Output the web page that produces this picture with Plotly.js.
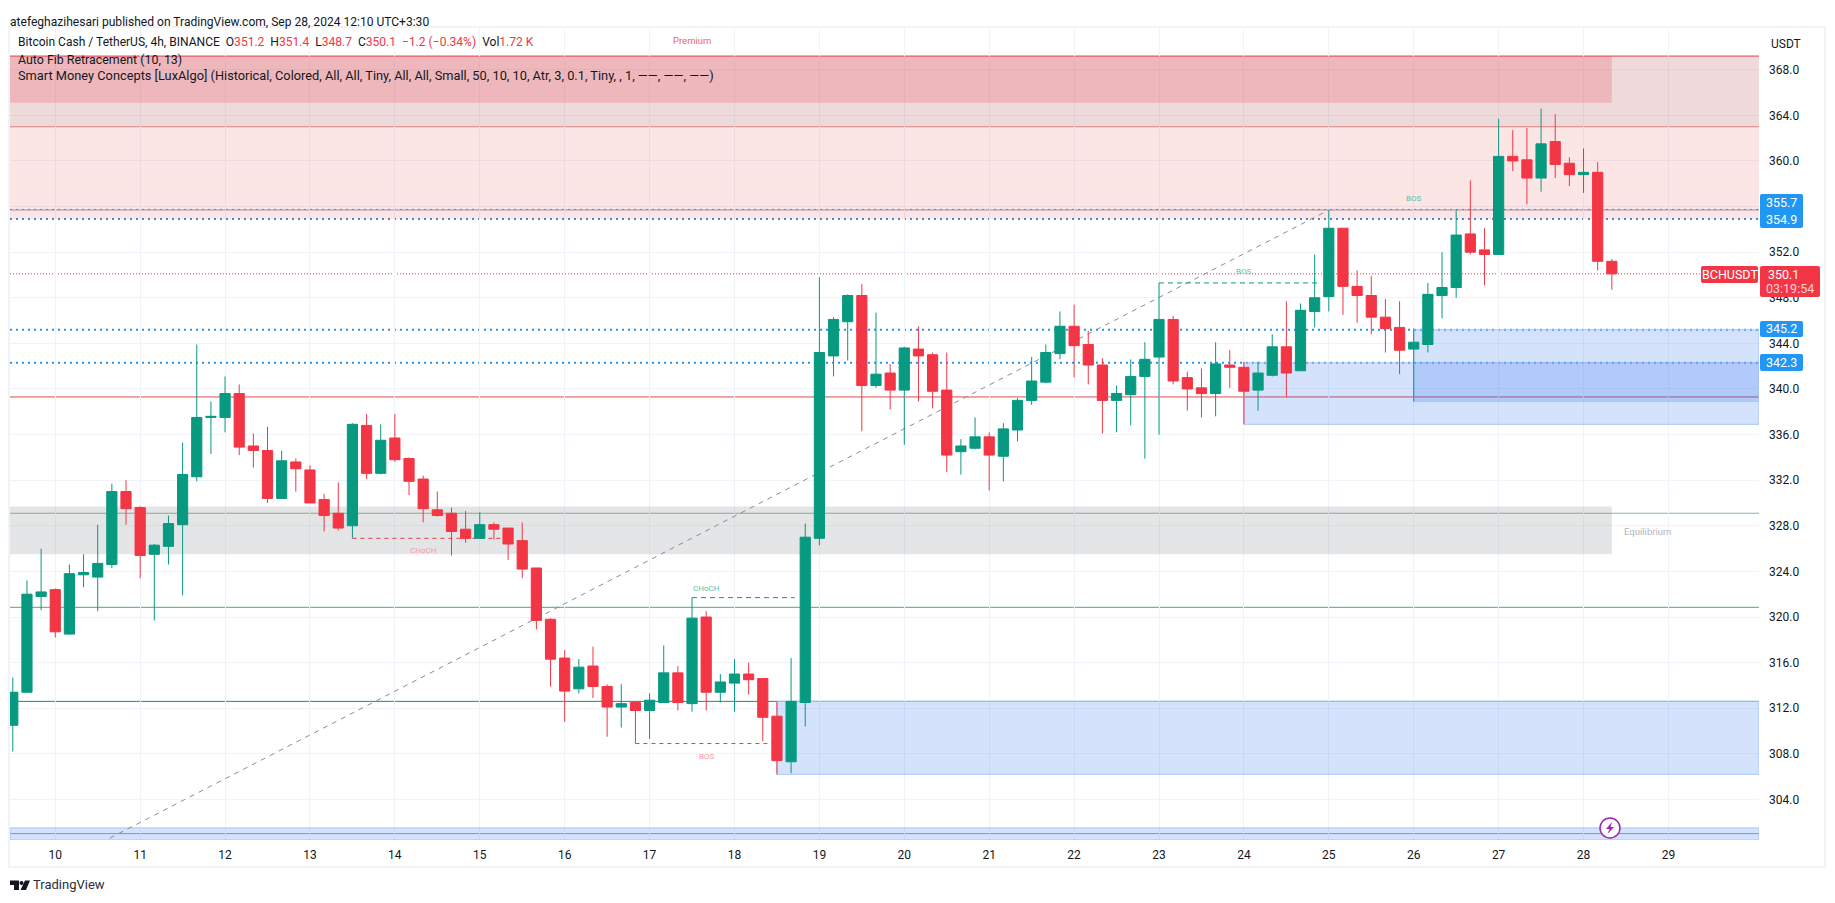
<!DOCTYPE html>
<html>
<head>
<meta charset="utf-8">
<script src="https://cdn.plot.ly/plotly-3.0.1.min.js"></script>
<style>html,body{margin:0;padding:0;background:#fff;overflow:hidden}#chart{width:1835px;height:903px}</style>
</head>
<body>
<div id="chart"></div>
<script>
var times = [
"2024-09-09 12:00","2024-09-09 16:00","2024-09-09 20:00",
"2024-09-10 00:00","2024-09-10 04:00","2024-09-10 08:00","2024-09-10 12:00","2024-09-10 16:00","2024-09-10 20:00",
"2024-09-11 00:00","2024-09-11 04:00","2024-09-11 08:00","2024-09-11 12:00","2024-09-11 16:00","2024-09-11 20:00",
"2024-09-12 00:00","2024-09-12 04:00","2024-09-12 08:00","2024-09-12 12:00","2024-09-12 16:00","2024-09-12 20:00",
"2024-09-13 00:00","2024-09-13 04:00","2024-09-13 08:00","2024-09-13 12:00","2024-09-13 16:00","2024-09-13 20:00",
"2024-09-14 00:00","2024-09-14 04:00","2024-09-14 08:00","2024-09-14 12:00","2024-09-14 16:00","2024-09-14 20:00",
"2024-09-15 00:00","2024-09-15 04:00","2024-09-15 08:00","2024-09-15 12:00","2024-09-15 16:00","2024-09-15 20:00",
"2024-09-16 00:00","2024-09-16 04:00","2024-09-16 08:00","2024-09-16 12:00","2024-09-16 16:00","2024-09-16 20:00",
"2024-09-17 00:00","2024-09-17 04:00","2024-09-17 08:00","2024-09-17 12:00","2024-09-17 16:00","2024-09-17 20:00",
"2024-09-18 00:00","2024-09-18 04:00","2024-09-18 08:00","2024-09-18 12:00","2024-09-18 16:00","2024-09-18 20:00",
"2024-09-19 00:00","2024-09-19 04:00","2024-09-19 08:00","2024-09-19 12:00","2024-09-19 16:00","2024-09-19 20:00",
"2024-09-20 00:00","2024-09-20 04:00","2024-09-20 08:00","2024-09-20 12:00","2024-09-20 16:00","2024-09-20 20:00",
"2024-09-21 00:00","2024-09-21 04:00","2024-09-21 08:00","2024-09-21 12:00","2024-09-21 16:00","2024-09-21 20:00",
"2024-09-22 00:00","2024-09-22 04:00","2024-09-22 08:00","2024-09-22 12:00","2024-09-22 16:00","2024-09-22 20:00",
"2024-09-23 00:00","2024-09-23 04:00","2024-09-23 08:00","2024-09-23 12:00","2024-09-23 16:00","2024-09-23 20:00",
"2024-09-24 00:00","2024-09-24 04:00","2024-09-24 08:00","2024-09-24 12:00","2024-09-24 16:00","2024-09-24 20:00",
"2024-09-25 00:00","2024-09-25 04:00","2024-09-25 08:00","2024-09-25 12:00","2024-09-25 16:00","2024-09-25 20:00",
"2024-09-26 00:00","2024-09-26 04:00","2024-09-26 08:00","2024-09-26 12:00","2024-09-26 16:00","2024-09-26 20:00",
"2024-09-27 00:00","2024-09-27 04:00","2024-09-27 08:00","2024-09-27 12:00","2024-09-27 16:00","2024-09-27 20:00",
"2024-09-28 00:00","2024-09-28 04:00","2024-09-28 08:00"];

var opens = [
310.5,313.4,321.8,322.4,318.5,323.7,323.5,324.6,331.0,329.6,
325.5,326.2,328.1,332.3,337.5,337.5,339.6,335.0,334.6,330.4,
333.6,332.9,330.3,329.1,328.0,336.8,332.6,335.7,333.9,332.1,
329.4,329.1,327.7,326.9,328.1,327.8,326.7,324.3,319.8,316.4,
313.7,315.7,313.9,312.1,312.5,311.8,312.5,315.1,312.4,320.0,
313.4,314.2,315.0,314.6,311.3,307.3,312.5,326.9,342.9,345.9,
348.2,340.3,341.4,339.9,343.5,343.0,339.9,334.5,334.8,335.8,
334.1,336.4,339.0,340.6,343.1,345.5,343.9,342.1,339.0,339.5,
341.1,342.8,346.1,341.0,340.1,339.6,342.1,341.9,339.9,341.2,
343.7,341.6,346.8,348.1,354.1,349.0,348.2,346.3,345.4,343.5,
343.9,348.2,348.9,353.6,352.2,351.8,360.4,360.1,358.5,361.7,
359.8,358.8,359.0,351.2];
var highs = [
314.7,323.2,326.0,322.5,324.6,325.5,328.1,331.7,332.0,329.7,
326.4,328.9,335.3,343.9,338.9,341.1,340.4,336.1,336.7,334.6,
333.9,333.3,330.8,331.8,337.0,337.8,336.9,337.8,334.0,332.4,
331.0,329.6,329.3,329.2,328.3,327.8,328.3,324.3,319.9,317.1,
316.3,317.4,314.1,314.1,312.6,313.3,317.5,315.7,321.7,320.5,
315.0,316.3,316.0,314.6,312.6,316.4,328.2,349.8,346.3,348.3,
349.2,346.7,342.2,343.7,345.5,343.2,343.2,335.6,337.5,336.2,
337.0,339.2,342.8,343.9,346.8,347.4,345.1,342.7,340.3,342.6,
344.1,349.3,346.4,341.5,341.8,344.1,343.4,342.4,342.4,344.8,
347.7,347.5,351.8,355.7,354.1,350.4,349.9,347.9,347.7,345.3,
349.3,352.0,355.7,358.3,354.1,363.7,362.7,362.9,364.6,364.1,
360.3,361.1,359.9,351.4];
var lows = [
308.2,313.4,320.6,318.2,318.5,322.6,320.5,324.3,328.1,323.4,
319.7,324.6,321.9,331.9,334.3,336.2,334.2,333.1,330.0,330.4,
331.0,330.0,327.5,327.6,326.9,332.1,332.5,333.6,330.7,328.3,
328.8,325.4,326.5,326.9,326.8,325.0,323.4,318.9,313.9,310.8,
313.3,312.9,309.5,310.3,308.9,309.3,312.5,311.8,311.7,311.8,
312.5,311.7,313.2,309.1,306.2,306.3,310.4,326.3,341.1,342.5,
336.3,340.1,338.2,335.1,338.9,338.3,332.7,332.5,334.7,331.1,
331.9,335.4,338.6,340.5,342.6,341.0,340.4,336.1,336.2,336.8,
333.9,336.0,340.4,338.1,337.5,337.6,340.1,336.9,338.1,341.1,
339.3,341.6,345.4,346.8,346.5,345.8,344.8,343.2,341.3,338.9,
343.2,346.2,348.0,351.8,349.1,351.8,359.1,356.2,357.3,358.5,
357.8,357.2,350.4,348.7];
var closes = [
313.4,322.0,322.2,318.7,323.8,323.9,324.7,331.0,329.5,325.4,
326.3,328.2,332.5,337.5,337.6,339.6,334.9,334.6,330.4,333.7,
333.0,330.0,328.9,327.8,336.9,332.6,335.5,333.8,331.9,329.5,
328.9,327.5,326.9,328.1,327.7,326.4,324.2,319.7,316.3,313.5,
315.6,313.9,312.1,312.4,311.8,312.7,315.1,312.5,319.9,313.4,
314.3,315.0,314.5,311.2,307.4,312.6,327.0,343.2,346.1,348.2,
340.3,341.3,339.9,343.6,342.9,339.8,334.2,335.0,335.8,334.2,
336.5,339.0,340.7,343.2,345.5,343.8,342.1,339.0,339.6,341.1,
342.6,346.1,340.7,340.0,339.6,342.2,341.9,339.8,341.4,343.7,
341.4,346.9,348.0,354.1,349.0,348.2,346.3,345.3,343.4,344.1,
348.3,348.9,353.5,352.0,351.8,360.4,360.0,358.5,361.5,359.7,
358.8,359.0,351.2,350.1];

var yTickValues = [304,308,312,316,320,324,328,332,336,340,344,348,352,356,360,364,368];
var yTickLabels = ["304.0","308.0","312.0","316.0","320.0","324.0","328.0","332.0","336.0","340.0","344.0","348.0","352.0","","360.0","364.0","368.0"];
var dayTicks = ["2024-09-10","2024-09-11","2024-09-12","2024-09-13","2024-09-14","2024-09-15","2024-09-16","2024-09-17","2024-09-18","2024-09-19","2024-09-20","2024-09-21","2024-09-22","2024-09-23","2024-09-24","2024-09-25","2024-09-26","2024-09-27","2024-09-28","2024-09-29"];
var dayLabels = ["10","11","12","13","14","15","16","17","18","19","20","21","22","23","24","25","26","27","28","29"];

var lastPrice = 350.1, level1 = 355.7, level2 = 354.9, level3 = 345.2, level4 = 342.3;
var fibTop = 369.2, fib2 = 363.0, fib3 = 339.3, fib4 = 329.1, fib5 = 320.85, fib6 = 312.6, fib7 = 301.0;
var xRange = ["2024-09-09 11:12:30","2024-09-30 01:36"];
var yRange = [300.44,371.75];

var UP='#089981', DOWN='#f23645', TEXT='#131722', FRAME='#f0f3fa', BLUE='#2196f3';
var FONT='Roboto,"Liberation Sans",sans-serif';

// pixel helpers for page chrome only
function px(x){return (x-10)/1749;}
function py(y){return (840-y)/813;}

function hline(p,color,dash,w){return {type:'line',layer:'between',xref:'paper',x0:0,x1:1,yref:'y',y0:p,y1:p,line:{color:color,width:w||1,dash:dash||'solid'}};}
function box(x0,x1,y0,y1,fill,edge){return {type:'rect',layer:'between',xref:'x',x0:x0,x1:x1,yref:'y',y0:y0,y1:y1,fillcolor:fill,line:{width:edge?1:0,color:edge||'rgba(0,0,0,0)'}};}
function seg(x0,y0,x1,y1,color,dash){return {type:'line',layer:'between',xref:'x',yref:'y',x0:x0,y0:y0,x1:x1,y1:y1,line:{color:color,width:1,dash:dash||'solid'}};}
function rectPx(x0,y0,x1,y1,fill){return {type:'rect',xref:'paper',yref:'paper',x0:px(x0),x1:px(x1),y0:py(y0),y1:py(y1),fillcolor:fill,line:{width:0}};}
function roundPx(x0,y0,x1,y1,fill){var r=2;var X=px,Y=py;var d='M'+X(x0+r)+','+Y(y0)+' L'+X(x1-r)+','+Y(y0)+' Q'+X(x1)+','+Y(y0)+' '+X(x1)+','+Y(y0+r)+' L'+X(x1)+','+Y(y1-r)+' Q'+X(x1)+','+Y(y1)+' '+X(x1-r)+','+Y(y1)+' L'+X(x0+r)+','+Y(y1)+' Q'+X(x0)+','+Y(y1)+' '+X(x0)+','+Y(y1-r)+' L'+X(x0)+','+Y(y0+r)+' Q'+X(x0)+','+Y(y0)+' '+X(x0+r)+','+Y(y0)+' Z';return {type:'path',xref:'paper',yref:'paper',path:d,fillcolor:fill,line:{width:0}};}
function polyPx(pts,fill){var d=pts.map(function(p,i){return (i?'L':'M')+px(p[0])+','+py(p[1]);}).join(' ')+' Z';return {type:'path',xref:'paper',yref:'paper',path:d,fillcolor:fill,line:{width:0}};}

var BOXFILL='rgba(38,110,240,0.2)', BOXEDGE='#a9c6f8';
var shapes=[
  // premium / equilibrium / fib zones
  box(xRange[0],xRange[1],level2,fibTop,'rgba(235,80,80,0.15)'),
  box(xRange[0],xRange[1],fib2,fibTop,'rgba(120,123,134,0.10)'),
  box(xRange[0],times[113],365.1,fibTop,'rgba(242,54,69,0.21)'),
  box(xRange[0],times[113],325.5,329.7,'rgba(120,123,134,0.2)'),
  // order blocks
  box(times[54],xRange[1],306.2,fib6,BOXFILL,BOXEDGE),
  box(times[87],xRange[1],336.9,level4,BOXFILL,BOXEDGE),
  box(times[99],xRange[1],338.9,level3,BOXFILL,BOXEDGE),
  box(xRange[0],xRange[1],300.44,301.5,BOXFILL,BOXEDGE),
  // fib levels
  hline(fibTop,DOWN),hline(fib2,'#e08c8e'),hline(fib3,'#e04a4a'),hline(fib4,'#86bf88'),hline(fib5,'#55a85a'),hline(fib6,'#1b8a70'),hline(fib7,'#5cb0f5'),
  hline(level1,'#8a9ac8'),
  hline(level1+0.05,'#5a8fd0','2px,4px',1),hline(level2,BLUE,'2px,4px',2),hline(level3,BLUE,'2px,4px',2),hline(level4,BLUE,'2px,4px',2),
  hline(lastPrice,DOWN,'1px,2px',1),
  // structure labels
  seg(times[24],326.9,"2024-09-15 06:00",326.9,DOWN,'4px,4px'),
  seg(times[44],308.9,times[54],308.9,DOWN,'4px,4px'),
  seg(times[48],321.7,"2024-09-18 17:00",321.7,UP,'5px,4px'),
  seg(times[81],349.3,"2024-09-24 21:00",349.3,UP,'5px,4px'),
  seg("2024-09-10 15:24",300.6,times[93],level1,'#8a8d96','5px,5px'),
  // outer frame
  rectPx(8,26,1826,28,FRAME),rectPx(8,26,10,868,FRAME),rectPx(1824,26,1826,868,FRAME),rectPx(8,866,1826,868,FRAME),
  // price tags
  roundPx(1760,194,1803,228,BLUE),
  roundPx(1760,321,1803,337,BLUE),
  roundPx(1760,354,1803,371,BLUE),
  roundPx(1701,266,1758,283,DOWN),
  roundPx(1760,266,1820,297,DOWN),
  // replay bolt badge
  {type:'circle',xref:'paper',yref:'paper',x0:px(1600),x1:px(1620),y0:py(818),y1:py(838),fillcolor:'#ffffff',line:{color:'#9c27b0',width:1.5}},
  polyPx([[1612,822],[1606,829],[1609.5,829],[1607.5,834],[1614,827],[1610.5,827]],'#9c27b0'),
  // TradingView logo
  polyPx([[10,880.5],[19,880.5],[19,890],[14,890],[14,885],[10,885]],'#131722'),
  {type:'circle',xref:'paper',yref:'paper',x0:px(19.5),x1:px(23.5),y0:py(881),y1:py(885),fillcolor:'#131722',line:{width:0}},
  polyPx([[25,880.5],[30,880.5],[26,890],[20.5,890]],'#131722')
];

function textPx(x,y,t,size,color,anchor){return {xref:'paper',yref:'paper',x:px(x),y:py(y),text:t,showarrow:false,xanchor:anchor||'left',yanchor:'middle',align:anchor||'left',font:{family:FONT,size:size,color:color},borderpad:0,borderwidth:0};}
function textData(x,y,t,size,color){return {xref:'x',yref:'paper',x:x,y:py(y),text:t,showarrow:false,xanchor:'center',yanchor:'middle',font:{family:FONT,size:size,color:color}};}
function red(s){return '<span style="color:#f23645">'+s+'</span>';}
var sp='\u00a0\u00a0';

var annotations=[
  textPx(10,22,'atefeghazihesari published on TradingView.com, Sep 28, 2024 12:10 UTC+3:30',12.05,TEXT),
  textPx(18,42,'Bitcoin Cash / TetherUS, 4h, BINANCE'+sp+'O'+red('351.2')+sp+'H'+red('351.4')+sp+'L'+red('348.7')+sp+'C'+red('350.1')+sp+red('\u22121.2 (\u22120.34%)')+sp+'Vol'+red('1.72 K'),12.05,TEXT),
  textPx(18,59,'Auto Fib Retracement (10, 13)',12.4,TEXT),
  textPx(18,76,'Smart Money Concepts [LuxAlgo] (Historical, Colored, All, All, Tiny, All, All, Small, 50, 10, 10, Atr, 3, 0.1, Tiny, , 1, \u2014\u2014, \u2014\u2014, \u2014\u2014)',12.8,TEXT),
  textPx(692,41,'Premium',9.5,'#f5606e','center'),
  textPx(1647,531,'Equilibrium',9.5,'#b2b5be','center'),
  textData("2024-09-14 08:00",551,'CHoCH',8,'#f99aa3'),
  textData(times[49],588,'CHoCH',8,'#5cc0a8'),
  textData(times[49],756,'BOS',8,'#f99aa3'),
  textData(times[87],271,'BOS',8,'#5cc0a8'),
  textData(times[99],198,'BOS',8,'#5cc0a8'),
  textPx(1781.5,202.5,level1.toFixed(1),12.5,'#ffffff','center'),
  textPx(1781.5,219,level2.toFixed(1),12.5,'#ffffff','center'),
  textPx(1781.5,329,level3.toFixed(1),12.5,'#ffffff','center'),
  textPx(1781.5,362.5,level4.toFixed(1),12.5,'#ffffff','center'),
  textPx(1729.5,274.5,'BCHUSDT',12.5,'#ffffff','center'),
  textPx(1783,274.5,lastPrice.toFixed(1),12.5,'#ffffff','center'),
  textPx(1790,289,'03:19:54',12.5,'#fbd0d4','center'),
  textPx(1786,44,'USDT',12,TEXT,'center'),
  textPx(33,885,'TradingView',13,'#2a2e39')
];

var trace={type:'candlestick',x:times,open:opens,high:highs,low:lows,close:closes,
  whiskerwidth:0,
  increasing:{line:{color:UP,width:1},fillcolor:UP},
  decreasing:{line:{color:DOWN,width:1},fillcolor:DOWN},
  hoverinfo:'skip',showlegend:false};

var layout={
  width:1835,height:903,
  margin:{l:10,r:76,t:27,b:63,pad:0},
  paper_bgcolor:'#ffffff',plot_bgcolor:'#ffffff',
  showlegend:false,boxgap:0.28,boxgroupgap:0,boxmode:'overlay',
  font:{family:FONT,size:12.5,color:TEXT},
  xaxis:{type:'date',range:xRange,tickmode:'array',tickvals:dayTicks,ticktext:dayLabels,
    rangeslider:{visible:false},showgrid:true,gridcolor:'#f0f3fa',gridwidth:1,zeroline:false,showline:false,ticks:'',
    ticklabelstandoff:6,tickfont:{family:FONT,size:12,color:TEXT},fixedrange:true},
  yaxis:{side:'right',type:'linear',range:yRange,tickmode:'array',tickvals:yTickValues,ticktext:yTickLabels,
    showgrid:true,gridcolor:'#f0f3fa',gridwidth:1,zeroline:false,showline:false,ticks:'',
    ticklabelstandoff:9,tickfont:{family:FONT,size:12,color:TEXT},fixedrange:true},
  shapes:shapes,annotations:annotations
};
Plotly.newPlot('chart',[trace],layout,{displayModeBar:false,staticPlot:true});
</script>
</body>
</html>
